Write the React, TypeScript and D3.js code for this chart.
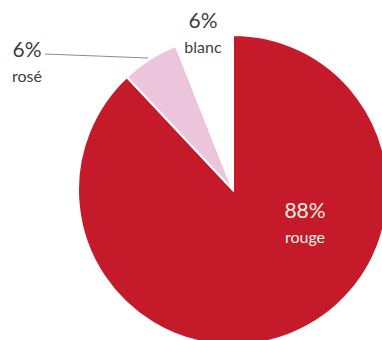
import React from "react";
import * as d3 from "d3";

const categories = ["rouge", "rosé", "blanc"];
const values = [88, 6, 6];
const percentLabels = ["88%", "6%", "6%"];

const W = 382;
const H = 340;
const colors = ["#C51A2A", "#ECC4DC", "#FFFFFF"];
const textColors = ["#F6EFE2", "#404040", "#404040"];
// label anchor positions (layout only)
const labelPos = [
  { x: 305, y: 218 },
  { x: 27, y: 57 },
  { x: 203, y: 28 },
];

export default function App() {
  const cx = 233;
  const cy = 190;
  const r = 155;
  const pie = d3.pie<number>().sort(null).value((d) => d);
  const arcs = pie(values);
  const arc = d3.arc<d3.PieArcDatum<number>>().innerRadius(0).outerRadius(r);
  const font = "Lato, 'Open Sans', sans-serif";
  return (
    <svg
      width={W}
      height={H}
      style={{ position: "fixed", left: 0, top: 0, background: "#fff" }}
    >
      <g transform={`translate(${cx},${cy})`}>
        {arcs.map((a, i) => (
          <path
            key={i}
            d={arc(a) || ""}
            fill={colors[i]}
            stroke="#fff"
            strokeWidth={2}
          />
        ))}
      </g>
      <line x1={45} y1={54} x2={148} y2={58} stroke="#8c8c8c" strokeWidth={1} />
      {categories.map((c, i) => (
        <g key={c} fill={textColors[i]} fontFamily={font} textAnchor="middle">
          <text x={labelPos[i].x} y={labelPos[i].y} fontSize={21}>
            {percentLabels[i]}
          </text>
          <text x={labelPos[i].x} y={labelPos[i].y + 25} fontSize={16}>
            {c}
          </text>
        </g>
      ))}
    </svg>
  );
}
